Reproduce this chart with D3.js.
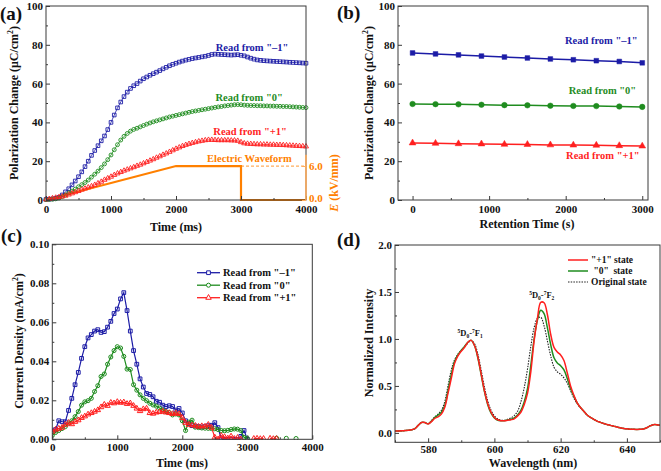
<!DOCTYPE html>
<html><head><meta charset="utf-8">
<script src="https://cdn.jsdelivr.net/npm/d3@7"></script>
<style>
body{margin:0;background:#fff}
svg text{font-family:"Liberation Serif","Times New Roman",serif;font-weight:bold}
</style></head><body>
<svg id="chart" width="661" height="471"></svg>
<script>
// ---------- Panel (a): polarization change vs time (step 50 ms) ----------
const aStep = 50;
const aBlue = [0.3,0.4,0.6,0.9,1.4,2.6,4.2,5.8,7.8,9.8,12.0,14.5,17.2,20.0,23.0,25.5,28.0,30.5,33.0,36.3,40.0,43.8,47.5,50.5,53.3,55.6,57.5,58.9,60.0,61.3,62.5,63.4,64.3,65.1,65.9,66.7,67.6,68.4,69.2,69.9,70.5,71.1,71.6,72.1,72.5,72.9,73.2,73.5,73.8,74.1,74.5,75.0,75.2,75.1,75.0,74.9,74.8,74.7,74.8,74.9,74.6,74.3,73.7,73.1,72.6,72.2,72.0,71.8,71.7,71.6,71.5,71.4,71.3,71.2,71.1,71.0,70.9,70.8,70.7,70.6,70.5];
const aGreen = [0.2,0.3,0.4,0.6,1.0,1.7,2.6,3.6,4.6,5.6,6.8,7.9,9.0,10.3,11.8,13.3,14.9,16.7,18.6,20.8,23.2,25.9,28.5,30.9,32.8,34.3,35.5,36.4,37.0,37.7,38.4,39.1,39.7,40.3,40.8,41.3,41.8,42.3,42.8,43.2,43.6,44.0,44.4,44.8,45.2,45.6,45.9,46.2,46.5,46.8,47.1,47.4,47.7,48.0,48.2,48.5,48.7,48.9,49.1,49.2,49.1,48.9,48.8,48.7,48.7,48.6,48.6,48.5,48.5,48.4,48.4,48.3,48.3,48.2,48.2,48.1,48.0,47.9,47.8,47.7,47.6];
const aRed = [0.3,0.5,0.9,1.2,1.5,1.8,2.2,2.8,3.4,4.0,4.6,5.3,5.9,6.5,7.1,7.8,8.6,9.4,10.4,11.2,12.0,12.9,13.7,14.4,15.1,15.7,16.3,16.9,17.6,18.2,18.9,19.6,20.3,21.0,21.8,22.5,23.3,24.0,24.8,25.6,26.4,27.1,27.8,28.4,28.9,29.4,29.8,30.2,30.5,30.8,31.0,31.0,30.9,30.8,30.8,30.8,30.8,30.7,30.7,30.5,29.8,29.2,29.0,28.9,28.8,28.7,28.7,28.6,28.6,28.5,28.5,28.4,28.4,28.3,28.2,28.1,28.0,27.9,27.8,27.7,27.6];
const waveT = [0,2000,3000,3000,4000];
const waveE = [0,6,6,0,0];

// ---------- Panel (b): retention ----------
const bTime = [0,300,600,900,1200,1500,1800,2100,2400,2700,3000];
const bBlue = [75.8,75.3,74.8,74.2,73.7,73.2,72.7,72.3,71.8,71.4,70.7];
const bGreen = [49.5,49.4,49.3,49.1,48.9,48.8,48.6,48.5,48.4,48.2,48.0];
const bRed = [29.4,29.2,29.0,28.9,28.7,28.6,28.4,28.3,28.2,28.0,27.8];

// ---------- Panel (c): current density (step 50 ms, null = not visible) ----------
const cStep = 50;
const cBlue = [0.004,0.005,0.0095,0.009,0.009,0.0148,0.021,0.028,0.0343,0.0415,0.0475,0.052,0.0537,0.0555,0.0562,0.0548,0.0552,0.0575,0.0605,0.0645,0.0668,0.072,0.0752,0.066,0.0555,0.0455,0.0385,0.031,0.0268,0.0235,0.023,0.0218,0.0195,0.019,0.0175,0.0168,0.0172,0.0168,0.015,0.0158,0.0135,0.0095,0.008,0.007,0.0068,0.0065,0.0063,0.0065,0.007,0.0072,0.0085,0.006,0.0002,0.0,0.0,0.0,0.0,0.0,0.0015,0.0045,0.0];
const cGreen = [0.002,0.0035,0.0045,0.0055,0.0065,0.0082,0.0095,0.0116,0.0142,0.0175,0.0192,0.0198,0.021,0.0245,0.0275,0.0322,0.0335,0.0385,0.0422,0.0455,0.0475,0.0468,0.0425,0.036,0.0358,0.028,0.0252,0.0228,0.021,0.0198,0.0185,0.0176,0.017,0.016,0.015,0.0142,0.0137,0.0125,0.013,0.0125,0.0095,0.0045,0.0088,0.0098,0.0062,0.006,0.0058,0.0057,0.0056,0.0055,0.0054,0.005,0.0045,0.0044,0.0046,0.005,0.0053,0.0052,0.0045,0.001,0.0005,null,null,null,null,null,null,null,null,0.0006,null,null,0.0005,null,null,0.0004];
const cRed = [0.004,0.005,0.0055,0.006,0.0075,0.0085,0.0078,0.009,0.0098,0.011,0.0118,0.0128,0.0135,0.0142,0.015,0.0165,0.0178,0.0172,0.0188,0.0185,0.0192,0.0188,0.019,0.0182,0.0185,0.0172,0.0158,0.0145,0.0155,0.0158,0.0135,0.0132,0.0138,0.014,0.0143,0.0138,0.0135,0.013,0.0135,0.013,0.011,0.0085,0.0075,0.0072,0.007,0.0065,0.0068,0.0066,0.0075,0.006,0.001,0.0,0.0018,0.0012,0.0005,0.0015,0.0003,0.0008,0.0,null,null,null,0.0003,0.0004,0.0002,0.0003,null,0.0004,0.0002,0.0003];

// ---------- Panel (d): PL spectra (570-650 nm, step 1 nm) ----------
const dStart = 570;
const dRed = [0.02,0.02,0.022,0.025,0.028,0.033,0.045,0.08,0.11,0.11,0.095,0.12,0.155,0.17,0.2,0.27,0.42,0.58,0.74,0.82,0.87,0.91,0.965,0.985,0.93,0.81,0.63,0.45,0.31,0.22,0.165,0.14,0.13,0.13,0.135,0.14,0.15,0.18,0.22,0.3,0.42,0.65,0.98,1.22,1.39,1.385,1.26,1.05,0.91,0.86,0.83,0.77,0.64,0.5,0.4,0.32,0.27,0.23,0.19,0.165,0.145,0.125,0.112,0.1,0.09,0.08,0.072,0.063,0.055,0.048,0.043,0.04,0.038,0.037,0.038,0.042,0.055,0.075,0.088,0.088,0.08];
const dGreen = [0.02,0.02,0.022,0.025,0.028,0.033,0.045,0.08,0.11,0.11,0.097,0.125,0.165,0.19,0.22,0.29,0.45,0.62,0.76,0.83,0.88,0.92,0.965,0.985,0.93,0.8,0.62,0.44,0.3,0.21,0.16,0.135,0.13,0.13,0.137,0.145,0.16,0.19,0.24,0.33,0.47,0.72,1.0,1.2,1.305,1.27,1.12,0.94,0.8,0.745,0.715,0.67,0.58,0.47,0.39,0.32,0.27,0.23,0.19,0.165,0.145,0.125,0.112,0.1,0.09,0.08,0.072,0.063,0.055,0.048,0.043,0.04,0.038,0.037,0.038,0.042,0.055,0.075,0.088,0.088,0.08];
const dOrig = [0.02,0.02,0.022,0.025,0.028,0.033,0.045,0.08,0.11,0.11,0.1,0.13,0.17,0.2,0.24,0.33,0.5,0.67,0.78,0.84,0.88,0.92,0.955,0.985,0.95,0.84,0.67,0.49,0.34,0.24,0.18,0.15,0.135,0.135,0.145,0.16,0.185,0.23,0.33,0.48,0.68,0.92,1.12,1.22,1.23,1.14,0.98,0.82,0.7,0.65,0.625,0.585,0.53,0.45,0.37,0.31,0.265,0.23,0.19,0.165,0.145,0.125,0.112,0.1,0.09,0.08,0.072,0.063,0.055,0.048,0.043,0.04,0.038,0.037,0.038,0.042,0.055,0.075,0.088,0.088,0.08];

const BLUE="#1c1ca6", GREEN="#1f8c1f", RED="#ff1f1f", ORANGE="#ff8000", ORANGE_L="#ffad5c", FRAME="#3a3a3a";
const svg = d3.select("#chart");

function frame(g, x, y){
  const [x0,x1]=x.range(), [y0,y1]=y.range();
  g.append("rect").attr("x",Math.min(x0,x1)).attr("y",Math.min(y0,y1))
   .attr("width",Math.abs(x1-x0)).attr("height",Math.abs(y1-y0))
   .attr("fill","none").attr("stroke",FRAME).attr("stroke-width",1);
}
function axes(g, x, y, xt, xm, yt, ym, xf, yf, xpad){
  const yb=y.range()[0], xl=x.range()[0];
  const ax=g.append("g").attr("transform",`translate(0,${yb})`)
    .call(d3.axisBottom(x).tickValues(xt).tickFormat(xf).tickSize(-4).tickPadding(xpad===undefined?5:xpad));
  const axm=g.append("g").attr("transform",`translate(0,${yb})`)
    .call(d3.axisBottom(x).tickValues(xm).tickFormat("").tickSize(-2));
  const ay=g.append("g").attr("transform",`translate(${xl},0)`)
    .call(d3.axisLeft(y).tickValues(yt).tickFormat(yf).tickSize(-4).tickPadding(3));
  const aym=g.append("g").attr("transform",`translate(${xl},0)`)
    .call(d3.axisLeft(y).tickValues(ym).tickFormat("").tickSize(-2));
  [ax,axm,ay,aym].forEach(a=>{a.select(".domain").remove();a.selectAll("line").attr("stroke",FRAME);
    a.selectAll("text").attr("font-size",11).attr("fill","#111");});
}
function sym(type,size){return d3.symbol().type(type).size(size)();}
function txt(g,x,y,s,opt){
  const t=g.append("text").attr("x",x).attr("y",y).text(s)
   .attr("font-size",opt.fs||11).attr("fill",opt.fill||"#111")
   .attr("text-anchor",opt.anchor||"middle");
  if(opt.rot) t.attr("transform",`rotate(-90,${x},${y})`);
  return t;
}
function unitTitle(g,x,y,pre,post,fs,rot){
  const t=g.append("text").attr("x",x).attr("y",y).attr("font-size",fs).attr("fill","#111")
    .attr("text-anchor","middle");
  if(rot) t.attr("transform",`rotate(-90,${x},${y})`);
  t.append("tspan").text(pre);
  t.append("tspan").text("2").attr("font-size",fs*0.65).attr("dy",-fs*0.4);
  t.append("tspan").text(post).attr("dy",fs*0.4);
}

// ================= Panel a =================
{
  const g=svg.append("g");
  const x=d3.scaleLinear([0,4000],[46,306]);
  const y=d3.scaleLinear([0,100],[200,6]);
  const e=d3.scaleLinear([0,8],[200,154.7]);
  const t=i=>i*aStep;
  g.append("line").attr("x1",x(3000)).attr("x2",x(4000)).attr("y1",e(6)).attr("y2",e(6))
    .attr("stroke",ORANGE_L).attr("stroke-width",1.2).attr("stroke-dasharray","3,2");
  g.append("path").datum(waveT.map((d,i)=>[d,waveE[i]]))
    .attr("d",d3.line(d=>x(d[0]),d=>e(d[1]))).attr("fill","none")
    .attr("stroke",ORANGE).attr("stroke-width",2.2);
  const series=[[aBlue,BLUE,d3.symbolSquare,13],[aGreen,GREEN,d3.symbolCircle,12],[aRed,RED,d3.symbolTriangle,11]];
  series.forEach(([vals,col,tp,sz])=>{
    g.append("path").datum(vals).attr("d",d3.line((d,i)=>x(t(i)),d=>y(d)))
      .attr("fill","none").attr("stroke",col).attr("stroke-width",0.8);
    g.append("g").selectAll("path").data(vals).join("path")
      .attr("transform",(d,i)=>`translate(${x(t(i))},${y(d)})`)
      .attr("d",sym(tp,sz)).attr("fill","none").attr("stroke",col).attr("stroke-width",0.9);
  });
  frame(g,x,y);
  axes(g,x,y,[0,1000,2000,3000,4000],[500,1500,2500,3500],[0,20,40,60,80,100],[10,30,50,70,90],d3.format("d"),d3.format("d"));
  g.append("line").attr("x1",306).attr("x2",306).attr("y1",e(8)).attr("y2",e(0))
    .attr("stroke",ORANGE_L).attr("stroke-width",1.6);
  const ar=g.append("g").attr("transform","translate(306,0)")
    .call(d3.axisRight(e).tickValues([0,6]).tickFormat(d3.format(".1f")).tickSize(-4).tickPadding(3));
  ar.select(".domain").remove();
  ar.selectAll("line").attr("stroke",ORANGE_L);
  ar.selectAll("text").attr("font-size",11).attr("fill",ORANGE);
  ar.selectAll(".tick").filter(d=>d===0).select("text").attr("dy","0.1em");
  const et=g.append("text").attr("x",338).attr("y",e(3)).attr("font-size",12).attr("fill",ORANGE)
    .attr("text-anchor","middle").attr("transform",`rotate(-90,338,${e(3)})`);
  et.append("tspan").text("E").attr("font-style","italic");
  et.append("tspan").text(" (kV/mm)");
  txt(g,x(3170),y(77),"Read from \"\u20131\"",{fs:10.5,fill:BLUE});
  txt(g,x(3125),y(51),"Read from \"0\"",{fs:10.5,fill:GREEN});
  txt(g,x(3140),y(33.5),"Read from \"+1\"",{fs:10.5,fill:RED});
  txt(g,x(3130),y(19.5),"Electric Waveform",{fs:10.5,fill:ORANGE});
  txt(g,176,231,"Time (ms)",{fs:12});
  unitTitle(g,18,103,"Polarization Change (\u03bcC/cm",")",12,true);
  txt(g,0,20,"(a)",{fs:19,anchor:"start"});
}

// ================= Panel b =================
{
  const g=svg.append("g");
  const x=d3.scaleLinear([-190,3075],[398,648]);
  const y=d3.scaleLinear([0,100],[200,6]);
  const series=[[bBlue,BLUE,d3.symbolSquare,22],[bGreen,GREEN,d3.symbolCircle,24],[bRed,RED,d3.symbolTriangle,20]];
  series.forEach(([vals,col,tp,sz])=>{
    g.append("path").datum(vals).attr("d",d3.line((d,i)=>x(bTime[i]),d=>y(d)))
      .attr("fill","none").attr("stroke",col).attr("stroke-width",1.5);
    g.append("g").selectAll("path").data(vals).join("path")
      .attr("transform",(d,i)=>`translate(${x(bTime[i])},${y(d)})`)
      .attr("d",sym(tp,sz)).attr("fill",col).attr("stroke",col).attr("stroke-width",0.5);
  });
  frame(g,x,y);
  axes(g,x,y,[0,1000,2000,3000],[500,1500,2500],[0,20,40,60,80,100],[10,30,50,70,90],d3.format("d"),d3.format("d"));
  txt(g,x(2465),y(80.5),"Read from \"\u20131\"",{fs:10.5,fill:BLUE});
  txt(g,x(2480),y(54.5),"Read from \"0\"",{fs:10.5,fill:GREEN});
  txt(g,x(2485),y(21.3),"Read from \"+1\"",{fs:10.5,fill:RED});
  txt(g,527,228,"Retention Time (s)",{fs:12});
  unitTitle(g,373,103,"Polarization Change (\u03bcC/cm",")",12,true);
  txt(g,337,19,"(b)",{fs:19,anchor:"start"});
}

// ================= Panel c =================
{
  const g=svg.append("g");
  const x=d3.scaleLinear([0,4000],[52.3,312.3]);
  const y=d3.scaleLinear([0,0.1],[439.3,244.3]);
  g.append("clipPath").attr("id","clipc").append("rect").attr("x",52.3).attr("y",244.3).attr("width",260).attr("height",195.5);
  const pg=g.append("g").attr("clip-path","url(#clipc)");
  const series=[[cBlue,BLUE,d3.symbolSquare,14],[cGreen,GREEN,d3.symbolCircle,13],[cRed,RED,d3.symbolTriangle,13]];
  series.forEach(([vals,col,tp,sz])=>{
    pg.append("path").datum(vals).attr("d",d3.line((d,i)=>x(i*cStep),d=>y(d)).defined(d=>d!==null))
      .attr("fill","none").attr("stroke",col).attr("stroke-width",1.2);
    pg.append("g").selectAll("path").data(vals.map((v,i)=>[i*cStep,v]).filter(d=>d[1]!==null)).join("path")
      .attr("transform",d=>`translate(${x(d[0])},${y(d[1])})`)
      .attr("d",sym(tp,sz)).attr("fill","none").attr("stroke",col).attr("stroke-width",1);
  });
  frame(g,x,y);
  axes(g,x,y,[0,1000,2000,3000,4000],[500,1500,2500,3500],[0,0.02,0.04,0.06,0.08,0.1],[0.01,0.03,0.05,0.07,0.09],d3.format("d"),d3.format(".2f"),4);
  const leg=[["Read from \"\u20131\"",BLUE,d3.symbolSquare,14],["Read from \"0\"",GREEN,d3.symbolCircle,13],["Read from \"+1\"",RED,d3.symbolTriangle,13]];
  leg.forEach(([s,col,tp,sz],i)=>{
    const yy=272.7+i*12.5;
    g.append("line").attr("x1",197).attr("x2",220).attr("y1",yy).attr("y2",yy).attr("stroke",col).attr("stroke-width",1.3);
    g.append("path").attr("transform",`translate(208.5,${yy})`).attr("d",sym(tp,sz)).attr("fill","#fff").attr("stroke",col).attr("stroke-width",1);
    txt(g,223,yy+3.6,s,{fs:10.5,anchor:"start"});
  });
  txt(g,182,467,"Time (ms)",{fs:12});
  unitTitle(g,23,341,"Current Density (mA/cm",")",12,true);
  txt(g,1,242,"(c)",{fs:19,anchor:"start"});
}

// ================= Panel d =================
{
  const g=svg.append("g");
  const x=d3.scaleLinear([570,650],[395,660]);
  const y=d3.scaleLinear([-0.1,2.0],[442.3,245]);
  g.append("clipPath").attr("id","clipd").append("rect").attr("x",395).attr("y",245).attr("width",265).attr("height",197.3);
  const pg=g.append("g").attr("clip-path","url(#clipd)");
  const line=d3.line((d,i)=>x(dStart+i),d=>y(d)).curve(d3.curveCatmullRom);
  pg.append("path").datum(dOrig).attr("d",line).attr("fill","none").attr("stroke","#222").attr("stroke-width",1.1).attr("stroke-dasharray","1.5,1.2");
  pg.append("path").datum(dGreen).attr("d",line).attr("fill","none").attr("stroke",GREEN).attr("stroke-width",1.5);
  pg.append("path").datum(dRed).attr("d",line).attr("fill","none").attr("stroke",RED).attr("stroke-width",1.5);
  frame(g,x,y);
  axes(g,x,y,[580,600,620,640],[570,590,610,630,650],[0,0.5,1,1.5,2],[0.25,0.75,1.25,1.75],d3.format("d"),d3.format(".1f"),3);
  const leg=[["\"+1\" state",RED,null],["\u00a0\"0\"\u00a0\u00a0state",GREEN,null],["Original state","#222","1.5,1.2"]];
  leg.forEach(([s,col,dash],i)=>{
    const yy=260+i*11;
    const l=g.append("line").attr("x1",568).attr("x2",588).attr("y1",yy).attr("y2",yy).attr("stroke",col).attr("stroke-width",dash?1.1:1.5);
    if(dash) l.attr("stroke-dasharray",dash);
    txt(g,591,yy+3.3,s,{fs:9.5,anchor:"start"});
  });
  function trans(xc,yc,b){
    const t=g.append("text").attr("x",xc).attr("y",yc).attr("font-size",8.5).attr("fill","#111").attr("text-anchor","middle");
    t.append("tspan").text("5").attr("font-size",5.5).attr("dy",-3);
    t.append("tspan").text("D").attr("dy",3);
    t.append("tspan").text("0").attr("font-size",5.5).attr("dy",2);
    t.append("tspan").text("-").attr("dy",-2);
    t.append("tspan").text("7").attr("font-size",5.5).attr("dy",-3);
    t.append("tspan").text("F").attr("dy",3);
    t.append("tspan").text(b).attr("font-size",5.5).attr("dy",2);
  }
  trans(x(592.7),y(1.03),"1");
  trans(x(614.3),y(1.44),"2");
  txt(g,533,467,"Wavelength (nm)",{fs:12});
  txt(g,373,343,"Normalized Intensity",{fs:12,rot:true});
  txt(g,337,246,"(d)",{fs:19,anchor:"start"});
}
</script>
</body></html>
